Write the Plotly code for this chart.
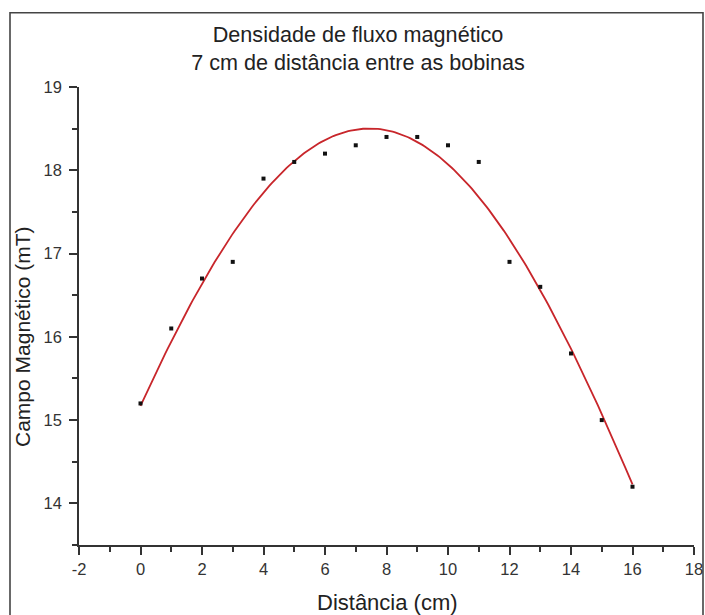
import numpy as np
import plotly.graph_objects as go

# Data
distancia = [0, 1, 2, 3, 4, 5, 6, 7, 8, 9, 10, 11, 12, 13, 14, 15, 16]
campo = [15.2, 16.1, 16.7, 16.9, 17.9, 18.1, 18.2, 18.3, 18.4, 18.4,
         18.3, 18.1, 16.9, 16.6, 15.8, 15.0, 14.2]

x_ticks = [-2, 0, 2, 4, 6, 8, 10, 12, 14, 16, 18]
x_ticklabels = ["-2", "0", "2", "4", "6", "8", "10", "12", "14", "16", "18"]
y_ticks = [14, 15, 16, 17, 18, 19]
y_ticklabels = ["14", "15", "16", "17", "18", "19"]

titulo = "Densidade de fluxo magnético<br>7 cm de distância entre as bobinas"
x_titulo = "Distância (cm)"
y_titulo = "Campo Magnético (mT)"

# Gaussian-shaped (peak) fit of the measured data: least squares on log(y),
# weighted by y so residuals approximate the linear-scale ones
xd = np.asarray(distancia, dtype=float)
yd = np.asarray(campo, dtype=float)
coef = np.polyfit(xd, np.log(yd), 2, w=yd)
x_fit = np.linspace(xd.min(), xd.max(), 200)
y_fit = np.exp(np.polyval(coef, x_fit))

FONT = "Liberation Sans, Arial, sans-serif"
W, H = 705, 615
L, R, T, B = 79, 11, 87, 70
PW, PH = W - L - R, H - T - B

def px_x(px):
    return (px - L) / PW

def px_y(py):
    return (H - B - py) / PH

fig = go.Figure()
fig.add_trace(go.Scatter(
    x=x_fit, y=y_fit, mode="lines",
    line=dict(color="#c8262b", width=1.8),
    hoverinfo="skip", showlegend=False,
))
fig.add_trace(go.Scatter(
    x=distancia, y=campo, mode="markers",
    marker=dict(symbol="square", size=4, color="#111111"),
    showlegend=False,
))

axis_common = dict(
    showline=True, linecolor="#333333", linewidth=1.6,
    ticks="outside", ticklen=8, tickwidth=1.5, tickcolor="#333333",
    showgrid=False, zeroline=False, mirror=False, automargin=False,
    tickfont=dict(family=FONT, size=16.5, color="#333333"),
)

fig.update_layout(
    template="none",
    width=W, height=H,
    margin=dict(l=L, r=R, t=T, b=B, autoexpand=False),
    paper_bgcolor="white", plot_bgcolor="white",
    title=dict(
        text=titulo, x=358 / W, xref="container", xanchor="center",
        y=1 - 42 / H, yref="container", yanchor="middle",
        font=dict(family=FONT, size=21.6, color="#222222"),
    ),
    xaxis=dict(
        range=[-2, 18], tickmode="array", tickvals=x_ticks, ticktext=x_ticklabels,
        minor=dict(dtick=1, tick0=-1, ticks="outside", ticklen=5,
                   tickwidth=1.5, tickcolor="#333333", showgrid=False),
        ticklabelstandoff=0,
        **axis_common,
    ),
    yaxis=dict(
        range=[13.5, 19], tickmode="array", tickvals=y_ticks, ticktext=y_ticklabels,
        minor=dict(dtick=0.5, tick0=13.5, ticks="outside", ticklen=5,
                   tickwidth=1.5, tickcolor="#333333", showgrid=False),
        ticklabelstandoff=4,
        **axis_common,
    ),
    annotations=[
        dict(text=x_titulo, xref="paper", yref="paper",
             x=px_x(387), y=px_y(602), xanchor="center", yanchor="middle",
             showarrow=False, font=dict(family=FONT, size=22, color="#222222")),
        dict(text=y_titulo, xref="paper", yref="paper", textangle=-90,
             x=px_x(22), y=px_y(337), xanchor="center", yanchor="middle",
             showarrow=False, font=dict(family=FONT, size=21, color="#222222")),
    ],
    shapes=[
        dict(type="rect", xref="paper", yref="paper",
             x0=px_x(10), x1=px_x(703), y0=px_y(640), y1=px_y(12.7),
             line=dict(color="#444444", width=1.6), fillcolor="rgba(0,0,0,0)",
             layer="below"),
    ],
)

fig.write_html("out.html")
